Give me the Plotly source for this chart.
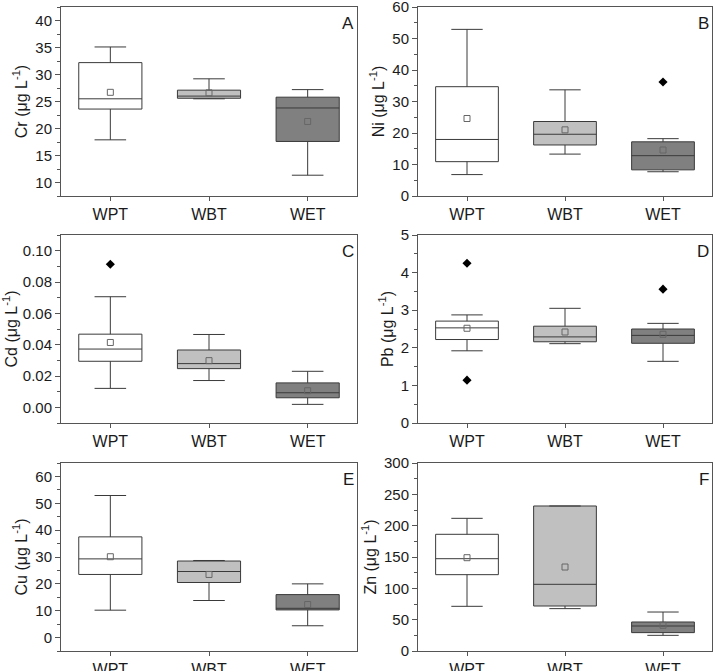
import plotly.graph_objects as go
from plotly.subplots import make_subplots

GROUPS = ["WPT", "WBT", "WET"]
FILLS = ["#ffffff", "#c0c0c0", "#808080"]

# Cr
CR_LOW = [17.9, 25.5, 11.35]
CR_Q1 = [23.6, 25.6, 17.6]
CR_MED = [25.5, 26.0, 23.8]
CR_Q3 = [32.2, 27.1, 25.8]
CR_UP = [35.1, 29.2, 27.2]
CR_MEAN = [26.7, 26.6, 21.3]
CR_OUT_X = []
CR_OUT_Y = []

# Ni
NI_LOW = [6.8, 13.3, 7.7]
NI_Q1 = [10.9, 16.2, 8.3]
NI_MED = [17.95, 19.6, 12.8]
NI_Q3 = [34.7, 23.65, 17.2]
NI_UP = [52.9, 33.7, 18.2]
NI_MEAN = [24.6, 21.0, 14.6]
NI_OUT_X = ["WET"]
NI_OUT_Y = [36.2]

# Cd
CD_LOW = [0.0121, 0.0171, 0.0019]
CD_Q1 = [0.0294, 0.0247, 0.0061]
CD_MED = [0.0372, 0.0279, 0.0093]
CD_Q3 = [0.0467, 0.0366, 0.0156]
CD_UP = [0.0706, 0.0465, 0.0230]
CD_MEAN = [0.0414, 0.0298, 0.0106]
CD_OUT_X = ["WPT"]
CD_OUT_Y = [0.0913]

# Pb
PB_LOW = [1.92, 2.11, 1.64]
PB_Q1 = [2.22, 2.16, 2.12]
PB_MED = [2.53, 2.29, 2.33]
PB_Q3 = [2.71, 2.575, 2.50]
PB_UP = [2.875, 3.05, 2.65]
PB_MEAN = [2.52, 2.42, 2.36]
PB_OUT_X = ["WPT", "WPT", "WET"]
PB_OUT_Y = [4.25, 1.14, 3.56]

# Cu
CU_LOW = [10.2, 13.8, 4.4]
CU_Q1 = [23.5, 20.5, 10.3]
CU_MED = [29.3, 24.6, 10.9]
CU_Q3 = [37.5, 28.5, 16.0]
CU_UP = [52.9, 28.7, 20.0]
CU_MEAN = [30.1, 23.5, 12.3]
CU_OUT_X = []
CU_OUT_Y = []

# Zn
ZN_LOW = [71.3, 67.6, 25.0]
ZN_Q1 = [121.8, 71.8, 29.3]
ZN_MED = [147.3, 106.4, 39.9]
ZN_Q3 = [186.2, 231.4, 46.3]
ZN_UP = [211.7, 231.4, 62.2]
ZN_MEAN = [148.9, 134.0, 41.0]
ZN_OUT_X = []
ZN_OUT_Y = []

PANELS = [
    ("Cr", "A", CR_LOW, CR_Q1, CR_MED, CR_Q3, CR_UP, CR_MEAN, CR_OUT_X, CR_OUT_Y, [7.5, 42.5], 5, 2.5, None),
    ("Ni", "B", NI_LOW, NI_Q1, NI_MED, NI_Q3, NI_UP, NI_MEAN, NI_OUT_X, NI_OUT_Y, [0, 60], 10, 5, None),
    ("Cd", "C", CD_LOW, CD_Q1, CD_MED, CD_Q3, CD_UP, CD_MEAN, CD_OUT_X, CD_OUT_Y, [-0.01, 0.11], 0.02, 0.01, ".2f"),
    ("Pb", "D", PB_LOW, PB_Q1, PB_MED, PB_Q3, PB_UP, PB_MEAN, PB_OUT_X, PB_OUT_Y, [0, 5], 1, 0.5, None),
    ("Cu", "E", CU_LOW, CU_Q1, CU_MED, CU_Q3, CU_UP, CU_MEAN, CU_OUT_X, CU_OUT_Y, [-5, 65], 10, 5, None),
    ("Zn", "F", ZN_LOW, ZN_Q1, ZN_MED, ZN_Q3, ZN_UP, ZN_MEAN, ZN_OUT_X, ZN_OUT_Y, [0, 300], 50, 25, None),
]

W, H = 714, 671
XD = [(61, 357), (418, 712)]
YD = [(7, 196), (235, 423), (463, 651)]

fig = make_subplots(rows=3, cols=2)
FONT = "Liberation Sans, Arial, sans-serif"
LINE = "#3a3a3a"
AXC = "#555555"

for i, (el, letter, lo, q1, med, q3, up, mean, ox, oy, yr, dt, mdt, tf) in enumerate(PANELS):
    r, c = i // 2 + 1, i % 2 + 1
    for j, g in enumerate(GROUPS):
        fig.add_trace(go.Box(
            x=[g], q1=[q1[j]], median=[med[j]], q3=[q3[j]],
            lowerfence=[lo[j]], upperfence=[up[j]],
            fillcolor=FILLS[j], line=dict(color=LINE, width=1),
            width=0.64, whiskerwidth=0.5, boxpoints=False, showlegend=False,
            hoverinfo="skip"), row=r, col=c)
    fig.add_trace(go.Scatter(
        x=GROUPS, y=mean, mode="markers", showlegend=False,
        marker=dict(symbol="square-open", size=6, color="#666666", line=dict(width=1))),
        row=r, col=c)
    if ox:
        fig.add_trace(go.Scatter(
            x=ox, y=oy, mode="markers", showlegend=False,
            marker=dict(symbol="diamond", size=7, color="#000000")), row=r, col=c)
    xd = XD[c - 1]
    yd = YD[r - 1]
    fig.update_xaxes(
        domain=[xd[0] / W, xd[1] / W], type="category", categoryorder="array",
        categoryarray=GROUPS, range=[-0.5, 2.5], automargin=False,
        ticklabeloverflow="allow",
        showline=True, linecolor=AXC, linewidth=1, mirror=True,
        ticks="outside", ticklen=4, tickcolor=AXC, showgrid=False, zeroline=False,
        tickfont=dict(family=FONT, size=16, color="#1a1a1a"), row=r, col=c)
    fig.update_yaxes(
        domain=[1 - yd[1] / H, 1 - yd[0] / H], range=yr, dtick=dt, tick0=0,
        tickformat=tf, automargin=False, ticklabeloverflow="allow",
        showline=True, linecolor=AXC, linewidth=1, mirror=True,
        ticks="outside", ticklen=5, tickcolor=AXC, showgrid=False, zeroline=False,
        minor=dict(dtick=mdt, tick0=0, ticks="outside", ticklen=3, tickcolor=AXC, showgrid=False),
        tickfont=dict(family=FONT, size=15, color="#1a1a1a"),
        title=dict(text=f"{el} (μg L<sup>-1</sup>)", standoff=3,
                   font=dict(family=FONT, size=16, color="#1a1a1a")),
        row=r, col=c)
    xref = "x" if i == 0 else f"x{i+1}"
    yref = "y" if i == 0 else f"y{i+1}"
    fig.add_annotation(text=letter, x=0.997, y=0.975, xref=f"{xref} domain",
                       yref=f"{yref} domain", xanchor="right", yanchor="top",
                       showarrow=False, font=dict(family=FONT, size=17, color="#1a1a1a"))

fig.update_layout(width=W, height=H, autosize=False,
                  margin=dict(l=0, r=0, t=0, b=0),
                  plot_bgcolor="white", paper_bgcolor="white",
                  boxgap=0, boxgroupgap=0)

POST = ("document.documentElement.style.margin='0';"
        "document.body.style.margin='0';document.body.style.padding='0';"
        "document.body.style.overflow='hidden';"
        "var d=document.getElementById('{plot_id}');"
        "d.style.position='fixed';d.style.left='0px';d.style.top='0px';")

fig.write_html("out.html", include_plotlyjs=True, post_script=POST,
               config={"displayModeBar": False})
